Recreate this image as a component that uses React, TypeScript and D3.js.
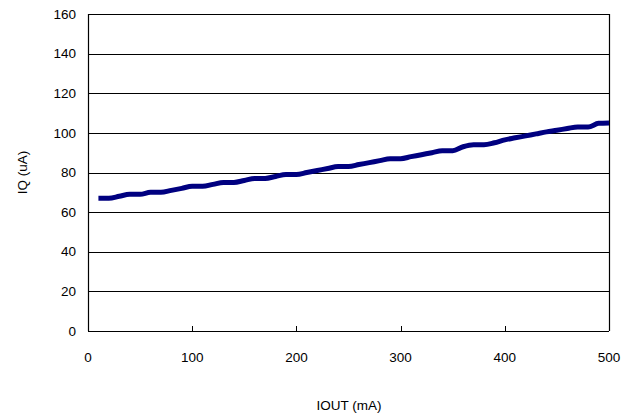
import * as d3 from "d3";
import { useEffect, useRef } from "react";

// IOUT (mA) vs IQ (uA)
const iout = [
  10, 20, 30, 40, 50, 60, 70, 80, 90, 100,
  110, 120, 130, 140, 150, 160, 170, 180, 190, 200,
  210, 220, 230, 240, 250, 260, 270, 280, 290, 300,
  310, 320, 330, 340, 350, 360, 370, 380, 390, 400,
  410, 420, 430, 440, 450, 460, 470, 480, 490, 500,
];
const iq = [
  67, 67, 68, 69, 69, 70, 70, 71, 72, 73,
  73, 74, 75, 75, 76, 77, 77, 78, 79, 79,
  80, 81, 82, 83, 83, 84, 85, 86, 87, 87,
  88, 89, 90, 91, 91, 93, 94, 94, 95, 96.5,
  97.5, 98.5, 99.5, 100.5, 101.3, 102.2, 103, 103, 104.8, 105,
];
const xTicks = [0, 100, 200, 300, 400, 500];
const yTicks = [0, 20, 40, 60, 80, 100, 120, 140, 160];

export default function App() {
  const svgRef = useRef<SVGSVGElement>(null);
  const width = 633;
  const height = 416;

  useEffect(() => {
    const svg = d3.select(svgRef.current);
    svg.selectAll("*").remove();

    const margin = { left: 88, top: 14, right: 24, bottom: 85 };
    const x = d3.scaleLinear().domain([0, 500]).range([margin.left, width - margin.right]);
    const y = d3.scaleLinear().domain([0, 160]).range([height - margin.bottom, margin.top]);
    const font = "'Liberation Sans', Arial, sans-serif";

    // horizontal gridlines
    svg.append("g")
      .selectAll("line")
      .data(yTicks)
      .enter()
      .append("line")
      .attr("x1", x(0))
      .attr("x2", x(500))
      .attr("y1", d => Math.round(y(d)) + 0.5)
      .attr("y2", d => Math.round(y(d)) + 0.5)
      .attr("stroke", "#000")
      .attr("stroke-width", 1);

    // left and right frame
    [0, 500].forEach(v => {
      svg.append("line")
        .attr("x1", Math.round(x(v)) + 0.5)
        .attr("x2", Math.round(x(v)) + 0.5)
        .attr("y1", y(160))
        .attr("y2", y(0))
        .attr("stroke", "#000")
        .attr("stroke-width", 1.2);
    });

    // x ticks pointing inward
    svg.append("g")
      .selectAll("line")
      .data(xTicks)
      .enter()
      .append("line")
      .attr("x1", d => Math.round(x(d)) + 0.5)
      .attr("x2", d => Math.round(x(d)) + 0.5)
      .attr("y1", y(0))
      .attr("y2", y(0) - 5)
      .attr("stroke", "#000");

    // y tick labels
    svg.append("g")
      .selectAll("text")
      .data(yTicks)
      .enter()
      .append("text")
      .attr("x", x(0) - 12)
      .attr("y", d => y(d))
      .attr("dy", "0.35em")
      .attr("text-anchor", "end")
      .style("font-family", font)
      .style("font-size", "13.5px")
      .text(d => d);

    // x tick labels
    svg.append("g")
      .selectAll("text")
      .data(xTicks)
      .enter()
      .append("text")
      .attr("x", d => x(d))
      .attr("y", y(0) + 26)
      .attr("dy", "0.35em")
      .attr("text-anchor", "middle")
      .style("font-family", font)
      .style("font-size", "13.5px")
      .text(d => d);

    // axis titles
    svg.append("text")
      .attr("x", 349)
      .attr("y", 405)
      .attr("dy", "0.35em")
      .attr("text-anchor", "middle")
      .style("font-family", font)
      .style("font-size", "13.5px")
      .text("IOUT (mA)");

    svg.append("text")
      .attr("transform", `translate(22, ${y(80)}) rotate(-90)`)
      .attr("dy", "0.35em")
      .attr("text-anchor", "middle")
      .style("font-family", font)
      .style("font-size", "13.5px")
      .text("IQ (uA)");

    // data line
    const line = d3.line<number>()
      .x((_, i) => x(iout[i]))
      .y(d => y(d))
      .curve(d3.curveMonotoneX);

    svg.append("path")
      .datum(iq)
      .attr("d", line)
      .attr("fill", "none")
      .attr("stroke", "#000080")
      .attr("stroke-width", 5)
      .attr("stroke-linejoin", "round");
  }, []);

  return (
    <svg
      ref={svgRef}
      width={width}
      height={height}
      style={{ position: "absolute", left: 0, top: 0, background: "#fff" }}
    />
  );
}
